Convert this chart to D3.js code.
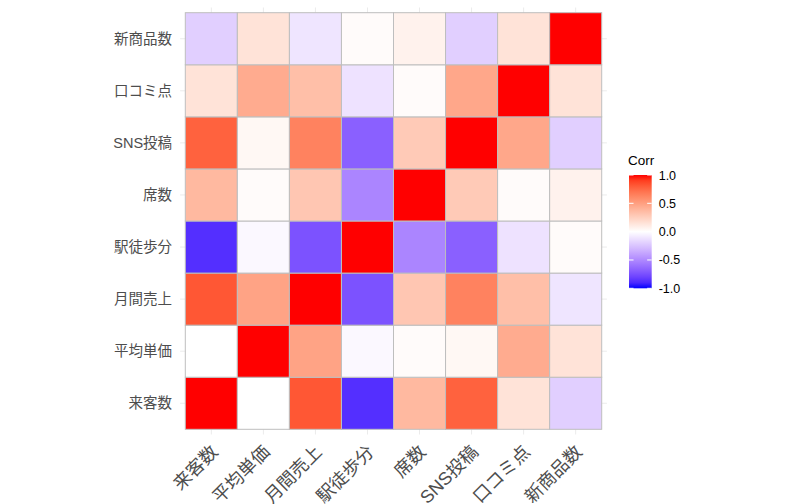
<!DOCTYPE html>
<html>
<head>
<meta charset="utf-8">
<script src="https://cdn.jsdelivr.net/npm/d3@7"></script>
<style>
  body { margin: 0; background: #fff; }
  text { font-family: "Liberation Sans", "Noto Sans CJK JP", sans-serif; }
</style>
</head>
<body>
<svg id="chart" width="798" height="504"></svg>
<script>
// variable names, bottom-to-top on y, left-to-right on x
var varNames = ['来客数', '平均単価', '月間売上', '駅徒歩分', '席数', 'SNS投稿', '口コミ点', '新商品数'];

// correlation rows, one per variable (same order as varNames)
var r来客数   = [1, 0.00, 0.82, -0.88, 0.37, 0.78, 0.15, -0.20];
var r平均単価 = [0.00, 1, 0.48, -0.03, 0.02, 0.04, 0.44, 0.15];
var r月間売上 = [0.82, 0.48, 1, -0.74, 0.30, 0.64, 0.34, -0.11];
var r駅徒歩分 = [-0.88, -0.03, -0.74, 1, -0.52, -0.68, -0.12, 0.02];
var r席数     = [0.37, 0.02, 0.30, -0.52, 1, 0.28, 0.02, 0.07];
var rSNS投稿  = [0.78, 0.04, 0.64, -0.68, 0.28, 1, 0.46, -0.20];
var r口コミ点 = [0.15, 0.44, 0.34, -0.12, 0.02, 0.46, 1, 0.15];
var r新商品数 = [-0.20, 0.15, -0.11, 0.02, 0.07, -0.20, 0.15, 1];

var legendTicks = [1.0, 0.5, 0.0, -0.5, -1.0];

var corrRows = [r来客数, r平均単価, r月間売上, r駅徒歩分, r席数, rSNS投稿, r口コミ点, r新商品数];

var cells = [];
corrRows.forEach(function(row, i) {
  row.forEach(function(v, j) {
    cells.push({ rowVar: varNames[i], colVar: varNames[j], value: v });
  });
});

var svg = d3.select('#chart');
svg.append('rect').attr('width', 798).attr('height', 504).attr('fill', '#fff');

var plotLeft = 185.3, plotRight = 601.7, plotTop = 12.7, plotBottom = 429.3;

var xScale = d3.scaleBand().domain(varNames).range([plotLeft, plotRight]);
var yScale = d3.scaleBand().domain(varNames.slice().reverse()).range([plotTop, plotBottom]);
var color = d3.scaleLinear().domain([-1, 0, 1])
  .range(['blue', 'white', 'red'])
  .interpolate(d3.interpolateLab);

// panel extends 0.1 band beyond the tiles (discrete expansion)
var ext = xScale.bandwidth() * 0.1;
var grid = svg.append('g');
varNames.forEach(function(n) {
  var cx = xScale(n) + xScale.bandwidth() / 2;
  var cy = yScale(n) + yScale.bandwidth() / 2;
  grid.append('line')
    .attr('x1', cx).attr('x2', cx)
    .attr('y1', plotTop - ext).attr('y2', plotBottom + ext)
    .attr('stroke', '#ebebeb').attr('stroke-width', 1);
  grid.append('line')
    .attr('x1', plotLeft - ext).attr('x2', plotRight + ext)
    .attr('y1', cy).attr('y2', cy)
    .attr('stroke', '#ebebeb').attr('stroke-width', 1);
});

svg.append('g').selectAll('rect')
  .data(cells)
  .enter().append('rect')
    .attr('x', function(d) { return xScale(d.colVar); })
    .attr('y', function(d) { return yScale(d.rowVar); })
    .attr('width', xScale.bandwidth())
    .attr('height', yScale.bandwidth())
    .attr('fill', function(d) { return color(d.value); })
    .attr('stroke', '#bebebe')
    .attr('stroke-width', 1);

// y axis labels
svg.append('g').selectAll('text')
  .data(varNames)
  .enter().append('text')
    .attr('x', plotLeft - ext - 8)
    .attr('y', function(d) { return yScale(d) + yScale.bandwidth() / 2; })
    .attr('dy', '0.36em')
    .attr('text-anchor', 'end')
    .attr('font-size', 14.5)
    .attr('fill', '#4d4d4d')
    .text(function(d) { return d; });

// x axis labels, rotated 45 degrees
svg.append('g').selectAll('text')
  .data(varNames)
  .enter().append('text')
    .attr('transform', function(d) {
      var cx = xScale(d) + xScale.bandwidth() / 2;
      return 'translate(' + (cx - 2) + ',' + (plotBottom + ext + 9) + ') rotate(-45)';
    })
    .attr('dy', '0.75em')
    .attr('text-anchor', 'end')
    .attr('font-size', 18)
    .attr('fill', '#4d4d4d')
    .text(function(d) { return d; });

// legend
var legX = 629, legW = 22.7, legTop = 175, legBottom = 288.3;
var legScale = d3.scaleLinear().domain([1, -1]).range([legTop, legBottom]);
var defs = svg.append('defs');
var grad = defs.append('linearGradient').attr('id', 'corrGrad')
  .attr('x1', 0).attr('y1', 1).attr('x2', 0).attr('y2', 0);
d3.range(0, 21).forEach(function(i) {
  var v = -1 + i * 0.1;
  grad.append('stop').attr('offset', (i / 20)).attr('stop-color', color(v));
});
svg.append('text')
  .attr('x', legX - 1).attr('y', 165)
  .attr('font-size', 13.5).attr('fill', '#000')
  .text('Corr');
svg.append('rect')
  .attr('x', legX).attr('y', legTop)
  .attr('width', legW).attr('height', legBottom - legTop)
  .attr('fill', 'url(#corrGrad)');
var legG = svg.append('g');
legendTicks.forEach(function(t) {
  var y = legScale(t);
  legG.append('line').attr('x1', legX).attr('x2', legX + legW / 5)
    .attr('y1', y).attr('y2', y).attr('stroke', '#fff').attr('stroke-width', 1);
  legG.append('line').attr('x1', legX + legW - legW / 5).attr('x2', legX + legW)
    .attr('y1', y).attr('y2', y).attr('stroke', '#fff').attr('stroke-width', 1);
  legG.append('text')
    .attr('x', legX + legW + 7).attr('y', y)
    .attr('dy', '0.36em')
    .attr('font-size', 12.5).attr('fill', '#000')
    .text(d3.format('.1f')(t).replace('−', '-'));
});
</script>
</body>
</html>
